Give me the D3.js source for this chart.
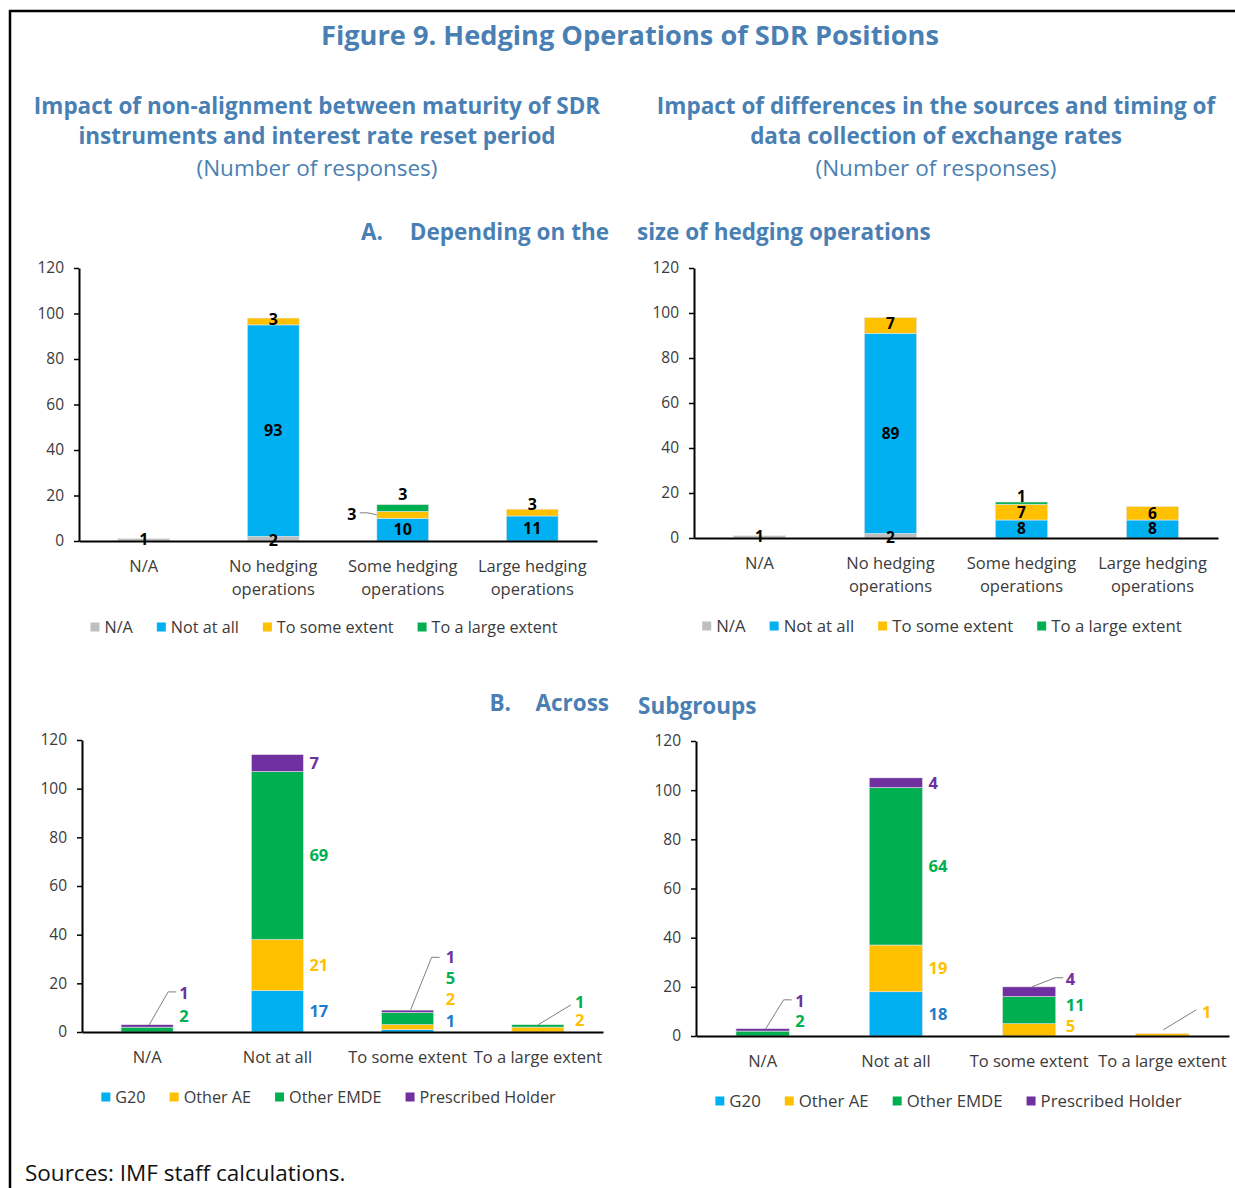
<!DOCTYPE html>
<html>
<head>
<meta charset="utf-8">
<script src="https://cdn.jsdelivr.net/npm/d3@7"></script>
<style>
  body { margin: 0; background: #fff; }
  svg { display: block; font-family: "Open Sans", "Noto Sans", sans-serif; }
</style>
</head>
<body>
<svg id="fig" width="1235" height="1188"></svg>
<script>
// ---- Panel A: responses by size of hedging operations ----
const sizeCategories = ["N/A", "No hedging operations", "Some hedging operations", "Large hedging operations"];
const responseSeries = ["N/A", "Not at all", "To some extent", "To a large extent"];

// Maturity of SDR instruments vs interest rate reset period
const maturityNA        = [1, 2, 0, 0];
const maturityNotAtAll  = [0, 93, 10, 11];
const maturitySome      = [0, 3, 3, 3];
const maturityLarge     = [0, 0, 3, 0];

// Sources and timing of exchange rate data collection
const fxNA       = [1, 2, 0, 0];
const fxNotAtAll = [0, 89, 8, 8];
const fxSome     = [0, 7, 7, 6];
const fxLarge    = [0, 0, 1, 0];

// ---- Panel B: responses across subgroups ----
const subgroupCategories = ["N/A", "Not at all", "To some extent", "To a large extent"];
const subgroupSeries = ["G20", "Other AE", "Other EMDE", "Prescribed Holder"];

const maturityG20        = [0, 17, 1, 0];
const maturityOtherAE    = [0, 21, 2, 2];
const maturityOtherEMDE  = [2, 69, 5, 1];
const maturityPrescribed = [1, 7, 1, 0];

const fxG20        = [0, 18, 0, 0];
const fxOtherAE    = [0, 19, 5, 1];
const fxOtherEMDE  = [2, 64, 11, 0];
const fxPrescribed = [1, 4, 4, 0];

const yTicks = [0, 20, 40, 60, 80, 100, 120];

// ---- styling ----
const titleBlue = "#4a7fb3";
const textGrey = "#3b3b3b";
const responseColors = ["#bfbfbf", "#00b0f0", "#ffc000", "#00b050"];
const subgroupColors = ["#00b0f0", "#ffc000", "#00b050", "#7030a0"];
const subgroupLabelColors = ["#1f7ccb", "#ffc000", "#00b050", "#7030a0"];

const svg = d3.select("#fig");

// frame lines
svg.append("line").attr("x1", 9).attr("x2", 1235).attr("y1", 11).attr("y2", 11)
  .attr("stroke", "#000").attr("stroke-width", 2.5);
svg.append("line").attr("x1", 10).attr("x2", 10).attr("y1", 10).attr("y2", 1188)
  .attr("stroke", "#000").attr("stroke-width", 2.5);

function addText(x, y, str, opts) {
  return svg.append("text").attr("x", x).attr("y", y).attr("dy", "0.35em")
    .attr("text-anchor", opts.anchor || "middle")
    .attr("font-size", opts.size).attr("font-weight", opts.weight || 400)
    .attr("fill", opts.color || titleBlue).text(str);
}

// headings
const hs = 22.5;
addText(630, 35, "Figure 9. Hedging Operations of SDR Positions", { size: 27.2, weight: 700 });
addText(317, 106, "Impact of non-alignment between maturity of SDR", { size: hs, weight: 700 });
addText(317, 136, "instruments and interest rate reset period", { size: hs, weight: 700 });
addText(317, 168, "(Number of responses)", { size: 22.5 });
addText(936, 106, "Impact of differences in the sources and timing of", { size: hs, weight: 700 });
addText(936, 136, "data collection of exchange rates", { size: hs, weight: 700 });
addText(936, 168, "(Number of responses)", { size: 22.5 });
addText(383, 232, "A.", { size: hs, weight: 700, anchor: "end" });
addText(609, 232, "Depending on the", { size: hs, weight: 700, anchor: "end" });
addText(637, 232, "size of hedging operations", { size: hs, weight: 700, anchor: "start" });
addText(511, 703, "B.", { size: hs, weight: 700, anchor: "end" });
addText(609, 703, "Across", { size: hs, weight: 700, anchor: "end" });
addText(638, 706, "Subgroups", { size: hs, weight: 700, anchor: "start" });
addText(25, 1173, "Sources: IMF staff calculations.", { size: 22.5, color: "#111", anchor: "start" });

// one stacked-column panel
function drawPanel(cfg) {
  const g = svg.append("g");
  const x = d3.scaleBand().domain(cfg.categories).range([cfg.x0, cfg.x1])
    .paddingInner(0.6).paddingOuter(0.3);
  const y = d3.scaleLinear().domain([0, 120]).range([cfg.yBase, cfg.yTop]);

  const rows = cfg.categories.map((c, i) => {
    const r = { category: c };
    cfg.series.forEach((s, j) => { r[s] = cfg.values[j][i]; });
    return r;
  });
  const layers = d3.stack().keys(cfg.series)(rows);
  const bw = x.bandwidth();

  // bars
  layers.forEach((layer, j) => {
    g.selectAll(null).data(layer.filter(d => d[1] - d[0] > 0)).enter().append("rect")
      .attr("x", d => x(d.data.category))
      .attr("y", d => y(d[1]))
      .attr("width", bw)
      .attr("height", d => y(d[0]) - y(d[1]))
      .attr("fill", cfg.colors[j])
      .attr("stroke", "#e6e6e6").attr("stroke-width", 0.6);
  });

  // y axis
  const ya = g.append("g").attr("transform", `translate(${cfg.x0},0)`)
    .call(d3.axisLeft(y).tickValues(yTicks).tickSize(5).tickSizeOuter(0).tickPadding(10));
  ya.select(".domain").attr("stroke", "#000").attr("stroke-width", 2);
  ya.selectAll(".tick line").attr("stroke", "#000").attr("stroke-width", 1.5);
  ya.selectAll(".tick text").attr("font-size", 15.5).attr("fill", textGrey)
    .attr("font-family", "\"Open Sans\", sans-serif");

  // x axis with wrapped category names
  const xa = g.append("g").attr("transform", `translate(0,${cfg.yBase})`)
    .call(d3.axisBottom(x).tickSize(0).tickSizeOuter(0).tickPadding(0));
  xa.select(".domain").attr("stroke", "#000").attr("stroke-width", 2.2);
  xa.selectAll(".tick text").each(function (d) {
    const t = d3.select(this).text(null).attr("font-size", 16.5).attr("fill", textGrey)
      .attr("font-family", "\"Open Sans\", sans-serif").attr("y", 0).attr("dy", null);
    const lines = cfg.wrap && d.indexOf(" operations") > 0
      ? [d.replace(" operations", ""), "operations"] : [d];
    lines.forEach((ln, k) => {
      t.append("tspan").attr("x", 0).attr("y", cfg.catY + k * cfg.catLine).attr("dy", "0.35em").text(ln);
    });
  });

  // value labels
  layers.forEach((layer, j) => {
    layer.forEach((d, i) => {
      const v = d[1] - d[0];
      if (v <= 0) return;
      const ax = x(d.data.category) + bw / 2;
      const ay = (y(d[0]) + y(d[1])) / 2;
      const o = (cfg.overrides[`${i}-${j}`]) || {};
      const baseDx = cfg.labelMode === "right" ? bw / 2 + 6 + (cfg.colDx ? cfg.colDx[i] : 0) : 0;
      const lx = ax + baseDx + (o.dx || 0);
      const ly = ay + (o.dy || 0);
      if (o.leader) {
        g.append("path")
          .attr("d", d3.line()(o.leader.map(p => [ax + p[0], ay + p[1]])))
          .attr("fill", "none").attr("stroke", "#7f7f7f").attr("stroke-width", 1);
      }
      g.append("text").attr("x", lx).attr("y", ly).attr("dy", "0.35em")
        .attr("text-anchor", cfg.labelMode === "right" ? "start" : "middle")
        .attr("font-size", cfg.labelSize).attr("font-weight", 700)
        .attr("fill", cfg.labelColors[j]).text(v);
    });
  });

  // legend
  const lg = g.append("g");
  let cx = 0;
  cfg.series.forEach((s, j) => {
    lg.append("rect").attr("x", cx).attr("y", -4.5).attr("width", 9).attr("height", 9)
      .attr("fill", cfg.colors[j]);
    const t = lg.append("text").attr("x", cx + 14).attr("y", 0).attr("dy", "0.35em")
      .attr("font-size", cfg.legendSize).attr("fill", textGrey).text(s);
    cx += 14 + t.node().getComputedTextLength() + 24;
  });
  const lw = cx - 24;
  const center = (cfg.x0 - 28 + cfg.x1) / 2;
  lg.attr("transform", `translate(${center - lw / 2},${cfg.yBase + cfg.legendDy})`);
}

drawPanel({
  categories: sizeCategories, series: responseSeries,
  values: [maturityNA, maturityNotAtAll, maturitySome, maturityLarge],
  colors: responseColors, labelColors: ["#000", "#000", "#000", "#000"],
  x0: 79, x1: 597, yBase: 541, yTop: 268, catY: 25, catLine: 23, wrap: true,
  legendDy: 86, legendSize: 16.2, labelMode: "center", labelSize: 16,
  overrides: {
    "1-0": { dy: 2 }, "1-2": { dy: -2 },
    "2-2": { dx: -51, leader: [[-43, -2], [-35, -2], [-26, 0]] },
    "2-3": { dy: -14 },
    "3-2": { dy: -8 }
  }
});

drawPanel({
  categories: sizeCategories, series: responseSeries,
  values: [fxNA, fxNotAtAll, fxSome, fxLarge],
  colors: responseColors, labelColors: ["#000", "#000", "#000", "#000"],
  x0: 694, x1: 1218, yBase: 538, yTop: 268, catY: 25, catLine: 23, wrap: true,
  legendDy: 88, legendSize: 16.8, labelMode: "center", labelSize: 15.5,
  overrides: {
    "1-0": { dy: 2 }, "1-2": { dy: -2 },
    "2-0": { dy: 1 },
    "2-3": { dy: -7 }
  }
});

drawPanel({
  categories: subgroupCategories, series: subgroupSeries,
  values: [maturityG20, maturityOtherAE, maturityOtherEMDE, maturityPrescribed],
  colors: subgroupColors, labelColors: subgroupLabelColors,
  x0: 82, x1: 603, yBase: 1032, yTop: 740, catY: 25, catLine: 23, wrap: false,
  legendDy: 65, legendSize: 16.2, labelMode: "right", labelSize: 16.5, colDx: [0, 0, 6, 5],
  overrides: {
    "0-2": { dy: -13 },
    "0-3": { dy: -33, leader: [[2, -1], [21, -34], [29, -34]] },
    "2-0": { dy: -10 },
    "2-1": { dy: -28 },
    "2-2": { dy: -40 },
    "2-3": { dy: -54, leader: [[3, -1.5], [24, -54], [32, -54]] },
    "3-1": { dy: -9 },
    "3-2": { dy: -24, leader: [[0, -1], [33, -21]] }
  }
});

drawPanel({
  categories: subgroupCategories, series: subgroupSeries,
  values: [fxG20, fxOtherAE, fxOtherEMDE, fxPrescribed],
  colors: subgroupColors, labelColors: subgroupLabelColors,
  x0: 696, x1: 1229, yBase: 1036, yTop: 741, catY: 25, catLine: 23, wrap: false,
  legendDy: 65, legendSize: 16.8, labelMode: "right", labelSize: 16.5, colDx: [0, 0, 4, 7],
  overrides: {
    "0-2": { dy: -12.5 },
    "0-3": { dy: -29, leader: [[3, -1], [21, -30], [29, -30]] },
    "2-1": { dy: -4 },
    "2-2": { dy: -5 },
    "2-3": { dy: -13, leader: [[3, -5], [26, -14], [34, -14]] },
    "3-1": { dy: -23, leader: [[1, -5], [34, -25]] }
  }
});
</script>
</body>
</html>
